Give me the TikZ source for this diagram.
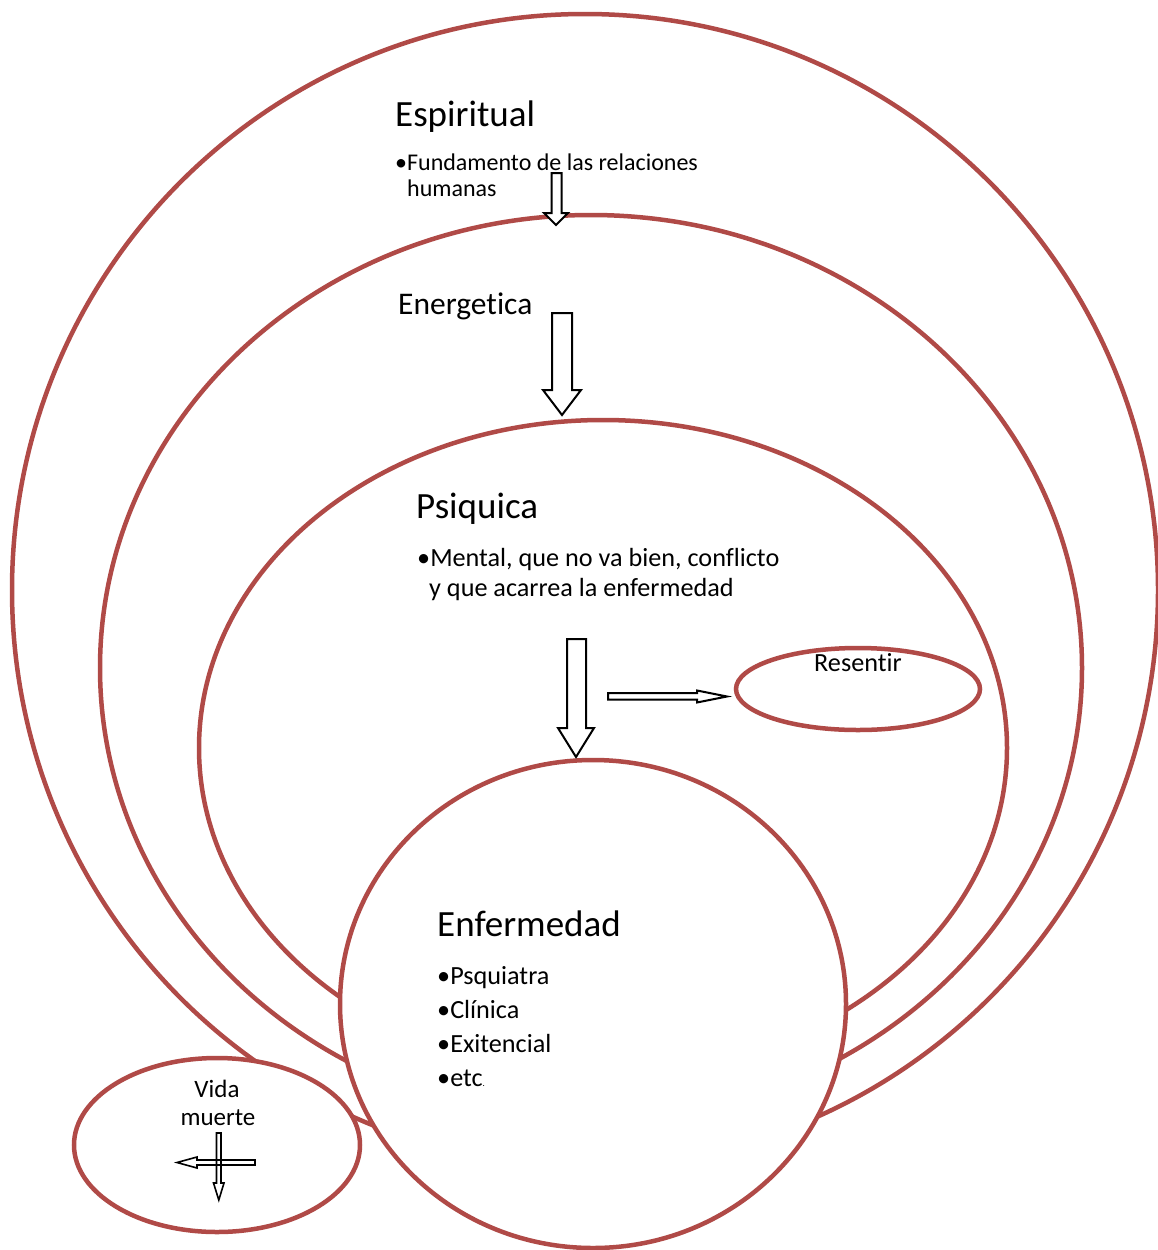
\documentclass[tikz,border=0pt]{standalone}
\usepackage{fontspec}
\setmainfont[RawFeature={-liga;-clig;-calt;-dlig}]{Carlito}
\usetikzlibrary{shapes.geometric}
\definecolor{ringred}{RGB}{176,74,71}
\begin{document}
\begin{tikzpicture}[x=1pt,y=-1pt,
  ring/.style={draw=ringred, line width=4.5pt, shape=ellipse, inner sep=0pt, outer sep=0pt},
  ringw/.style={ring, fill=white},
  blockarrow/.style={draw=black, fill=white, line width=2pt, line join=miter},
  thinarrow/.style={draw=black, line width=1.6pt, line join=miter},
  big/.style={anchor=base west, inner sep=0pt, font=\fontsize{37}{44}\selectfont},
  mid/.style={anchor=base west, inner sep=0pt, font=\fontsize{31.5}{37}\selectfont},
  txt/.style={anchor=base west, inner sep=0pt, font=\fontsize{26.2}{31}\selectfont},
  small/.style={anchor=base west, inner sep=0pt, font=\fontsize{24}{27}\selectfont}]
\useasboundingbox (0,0) rectangle (1158,1250);
\fill[white] (0,0) rectangle (1158,1250);

% rings
\node[ring, minimum width=1146pt, minimum height=1152pt] (espiritual) at (585,590) {};
\node[ring, minimum width=982pt, minimum height=906pt] (energetica) at (591,668) {};
\node[ring, minimum width=808pt, minimum height=656pt] (psiquica) at (603,748) {};
\node[ringw, minimum width=286pt, minimum height=174pt] (vida) at (217,1145) {};
\node[ringw, minimum width=506pt, minimum height=488pt] (enfermedad) at (593,1004) {};
\node[ring, minimum width=244pt, minimum height=82pt] (resentir) at (858,689) {};

% block arrows
\draw[blockarrow] (551.5,173) -- (561.5,173) -- (561.5,213) -- (568,213) -- (556,225)
  -- (544,213) -- (551.5,213) -- cycle;
\draw[blockarrow] (552,313) -- (572,313) -- (572,390) -- (581,390) -- (562,415)
  -- (543,390) -- (552,390) -- cycle;
\draw[blockarrow] (567,639) -- (586,639) -- (586,728) -- (594,728) -- (576,757)
  -- (558,728) -- (567,728) -- cycle;
\draw[blockarrow] (608,693) -- (697,693) -- (697,690.5) -- (727,696.5) -- (697,702.5)
  -- (697,699.5) -- (608,699.5) -- cycle;

% cross of arrows in Vida muerte
\draw[thinarrow] (216.5,1133) -- (221,1133) -- (221,1183) -- (224,1183) -- (218.8,1200)
  -- (213.5,1183) -- (216.5,1183) -- cycle;
\draw[thinarrow] (255,1160) -- (197,1160) -- (197,1157) -- (177,1162.5) -- (197,1168)
  -- (197,1165) -- (255,1165) -- cycle;

% texts
\node[big] (tEsp) at (395,126) {Espiritual};
\node[small] (tEsp1) at (395,170) {•Fundamento de las relaciones};
\node[small] (tEsp2) at (407,196) {humanas};
\node[mid] (tEne) at (398,314) {Energetica};
\node[big] (tPsi) at (416,518) {Psiquica};
\node[txt] (tPsi1) at (417,566) {•Mental, que no va bien, conflicto};
\node[txt] (tPsi2) at (429,596) {y que acarrea la enfermedad};
\node[txt] (tRes) at (814,671) {Resentir};
\node[big] (tEnf) at (437,936) {Enfermedad};
\node[txt] (tEnf1) at (437,984) {•Psquiatra};
\node[txt] (tEnf2) at (437,1018) {•Clínica};
\node[txt] (tEnf3) at (437,1052) {•Exitencial};
\node[txt] (tEnf4) at (437,1086) {•etc{\fontsize{9}{10}\selectfont .}};
\node[anchor=base, inner sep=0pt, font=\fontsize{25}{30}\selectfont] (tVida1) at (217,1097) {Vida};
\node[anchor=base, inner sep=0pt, font=\fontsize{25}{30}\selectfont] (tVida2) at (218,1125) {muerte};
\end{tikzpicture}
\end{document}
